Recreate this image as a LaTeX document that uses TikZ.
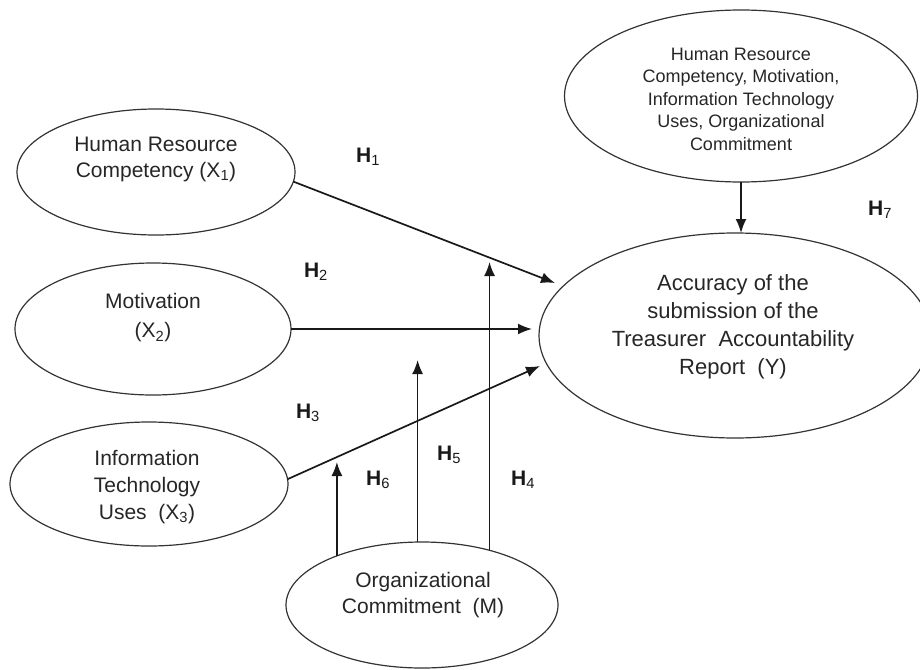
\documentclass[tikz,border=0pt]{standalone}
\usepackage{fontspec}
\setmainfont{Liberation Sans}
\usetikzlibrary{arrows.meta,shapes.geometric}
\begin{document}
\begin{tikzpicture}[x=1pt,y=-1pt,
  ell/.style={draw=black!80, line width=1.2pt, ellipse, inner sep=0pt, outer sep=0pt},
  txt/.style={align=center, text=black!85, inner sep=0pt, font=\fontsize{21}{26}\selectfont},
  hl/.style={font=\fontsize{21}{25}\selectfont\bfseries, text=black!90, inner sep=0pt},
  arr/.style={-{Latex[length=14pt,width=11pt]}, line width=1.7pt, draw=black!90}
]
\useasboundingbox (0,0) rectangle (920,669);

% ellipses
\node[ell, minimum width=278pt, minimum height=126pt] (x1) at (156,172) {};
\node[ell, minimum width=276pt, minimum height=132pt] (mot) at (153,329) {};
\node[ell, minimum width=278pt, minimum height=124pt] (it) at (149,484) {};
\node[ell, minimum width=272pt, minimum height=126pt] (org) at (422,605) {};
\node[ell, minimum width=392pt, minimum height=205pt] (y) at (735,335.5) {};
\node[ell, minimum width=353pt, minimum height=172pt] (top) at (741,96) {};

% texts
\node[txt] (x1t) at (156,159) {Human Resource\\Competency (X\textsubscript{1})};
\node[txt, font=\fontsize{21}{29}\selectfont] (mott) at (153,318) {Motivation\\(X\textsubscript{2})};
\node[txt, font=\fontsize{21}{27}\selectfont] (itt) at (147,487) {Information\\Technology\\Uses\ \ (X\textsubscript{3})};
\node[txt] (orgt) at (423,595) {Organizational\\Commitment\ \ (M)};
\node[txt, font=\fontsize{22}{28}\selectfont] (yt) at (733,327) {Accuracy of the\\submission of the\\Treasurer\ \ Accountability\\Report\ \ (Y)};
\node[txt, font=\fontsize{18}{22.5}\selectfont] (topt) at (741,99) {Human Resource\\Competency, Motivation,\\Information Technology\\Uses, Organizational\\Commitment};

% arrow tips
\coordinate (tip1) at (555,283);
\coordinate (tip2) at (532,329);
\coordinate (tip3) at (540,366);
\coordinate (tip4) at (488.5,262);
\coordinate (tip5) at (417.5,360);
\coordinate (tip6) at (335.5,462);

% connectors
\draw[arr] (x1.-4.6) -- (tip1);
\draw[arr] (mot.east) -- (tip2);
\draw[arr] (it.2.9) -- (tip3);
\draw[arr] (org.39.57) -- (org.39.57 |- tip4);
\draw[arr] (org.94.09) -- (org.94.09 |- tip5);
\draw[arr] (org.150.66) -- (org.150.66 |- tip6);
\draw[arr] (top.south) -- (top.south |- y.north);

% hypothesis labels
\node[hl] (h1) at (368,157) {H\textsubscript{\mdseries 1}};
\node[hl] (h2) at (316,272) {H\textsubscript{\mdseries 2}};
\node[hl] (h3) at (308,413) {H\textsubscript{\mdseries 3}};
\node[hl] (h4) at (523,480) {H\textsubscript{\mdseries 4}};
\node[hl] (h5) at (449,455) {H\textsubscript{\mdseries 5}};
\node[hl] (h6) at (378,480) {H\textsubscript{\mdseries 6}};
\node[hl] (h7) at (880,210) {H\textsubscript{\mdseries 7}};
\end{tikzpicture}
\end{document}
